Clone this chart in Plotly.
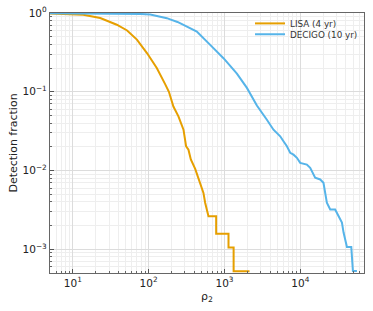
import plotly.graph_objects as go

# LISA (4 yr) detection fraction vs rho_2
lisa_rho = [5, 8, 13.7, 23, 38, 52, 70, 95, 128, 165, 185, 212, 247, 288, 312, 335,
            360, 411, 477, 528, 556, 615, 777, 777, 1130, 1130, 1320, 1320, 2140]
lisa_frac = [0.985, 0.978, 0.95, 0.865, 0.71, 0.60, 0.46, 0.31, 0.20, 0.125, 0.10,
             0.065, 0.0487, 0.033, 0.0203, 0.0184, 0.0138, 0.0105, 0.0070, 0.0052,
             0.0039, 0.00263, 0.00263, 0.00158, 0.00158, 0.00105, 0.00105,
             0.000526, 0.000526]

# DECIGO (10 yr) detection fraction vs rho_2
decigo_rho = [5, 10, 23, 57, 80, 105, 135, 174, 192, 240, 288, 350, 432, 648, 970,
              1458, 1782, 1976, 2675, 3270, 3623, 4428, 5430, 6000, 6656, 7360, 8130,
              9020, 9970, 12200, 13500, 15700, 18300, 20200, 22400, 24800, 28800,
              31900, 35400, 37200, 41200, 47000, 49400, 55800]
decigo_frac = [0.99, 0.99, 0.987, 0.978, 0.97, 0.955, 0.915, 0.86, 0.83, 0.77, 0.705,
               0.645, 0.58, 0.394, 0.267, 0.17, 0.128, 0.112, 0.067, 0.052, 0.0442,
               0.033, 0.0272, 0.0235, 0.0203, 0.0168, 0.0159, 0.0145, 0.0125, 0.0119,
               0.0108, 0.0081, 0.0077, 0.0070, 0.0039, 0.0032, 0.0032, 0.00264,
               0.00218, 0.00163, 0.00107, 0.00107, 0.00053, 0.00053]

x_tick_vals = [10, 100, 1000, 10000]
x_tick_text = ["10<sup>1</sup>", "10<sup>2</sup>", "10<sup>3</sup>", "10<sup>4</sup>"]
y_tick_vals = [0.001, 0.01, 0.1, 1]
y_tick_text = ["10<sup>\u22123</sup>", "10<sup>\u22122</sup>", "10<sup>\u22121</sup>", "10<sup>0</sup>"]

x_minor = [m * 10 ** e for e in range(0, 5) for m in range(2, 10)]
y_minor = [m * 10.0 ** e for e in range(-4, 0) for m in range(2, 10)]

fig = go.Figure()
fig.add_trace(go.Scatter(x=lisa_rho, y=lisa_frac, mode="lines", name="LISA (4 yr)",
                         line=dict(color="#E69F00", width=2), legend="legend"))
fig.add_trace(go.Scatter(x=decigo_rho, y=decigo_frac, mode="lines", name="DECIGO (10 yr)",
                         line=dict(color="#56B4E9", width=2), legend="legend2"))

axis_common = dict(
    type="log", showline=True, linecolor="#666", linewidth=1.3, mirror=True,
    ticks="inside", ticklen=4, tickcolor="#555", tickwidth=1,
    showgrid=True, gridcolor="#dcdcdc", gridwidth=0.8, zeroline=False,
    tickfont=dict(size=10.5, color="#222"), automargin=False,
)

fig.update_xaxes(
    **axis_common, range=[0.699, 4.84], tickmode="array",
    tickvals=x_tick_vals, ticktext=x_tick_text,
    minor=dict(tickvals=x_minor, ticks="inside", ticklen=2, tickcolor="#666",
               showgrid=True, gridcolor="#eeeeee", gridwidth=0.6),
    title=dict(text="\u03c1<sub>2</sub>", font=dict(size=11, color="#222"), standoff=4),
)
fig.update_yaxes(
    **axis_common, range=[-3.301, 0], tickmode="array",
    tickvals=y_tick_vals, ticktext=y_tick_text,
    minor=dict(tickvals=y_minor, ticks="inside", ticklen=2, tickcolor="#666",
               showgrid=True, gridcolor="#eeeeee", gridwidth=0.6),
    title=dict(text="Detection fraction", font=dict(size=11, color="#222"), standoff=2),
)

legend_common = dict(xanchor="left", yanchor="middle", bgcolor="rgba(255,255,255,0)",
                     borderwidth=0, font=dict(size=8.8, color="#333"), itemwidth=30)

fig.update_layout(
    width=373, height=311,
    margin=dict(l=50, r=9, t=13, b=38, autoexpand=False),
    paper_bgcolor="white", plot_bgcolor="white",
    font=dict(family="DejaVu Sans", size=10.5, color="#222"),
    legend=dict(x=0.637, y=0.960, **legend_common),
    legend2=dict(x=0.637, y=0.918, **legend_common),
    showlegend=True,
)

fig.write_html("out.html", post_script="document.body.style.margin='0';",
               config={"displayModeBar": False})
